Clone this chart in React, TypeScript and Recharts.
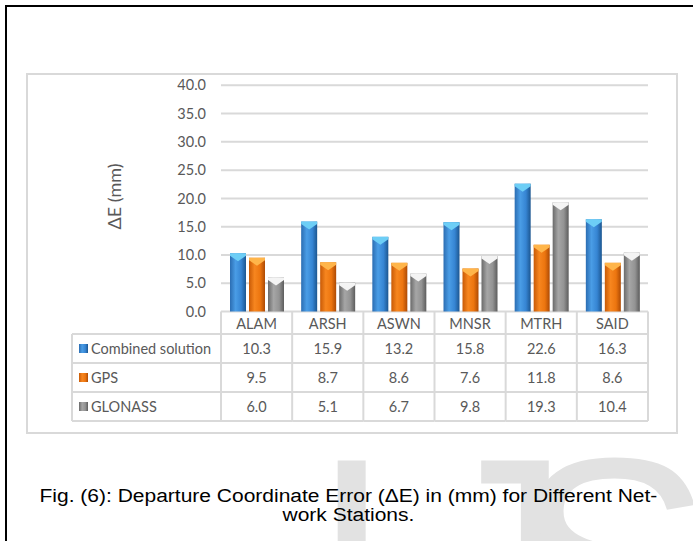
import { BarChart, Bar, XAxis, YAxis, CartesianGrid, Label } from 'recharts';

const stations = ['ALAM', 'ARSH', 'ASWN', 'MNSR', 'MTRH', 'SAID'];
const combined = [10.3, 15.9, 13.2, 15.8, 22.6, 16.3];
const gps = [9.5, 8.7, 8.6, 7.6, 11.8, 8.6];
const glonass = [6.0, 5.1, 6.7, 9.8, 19.3, 10.4];
const seriesNames = ['Combined solution', 'GPS', 'GLONASS'];
const yTicks = [0, 5, 10, 15, 20, 25, 30, 35, 40];

const data = stations.map((name, i) => ({
  name,
  combined: combined[i],
  gps: gps[i],
  glonass: glonass[i],
}));
const seriesValues = [combined, gps, glonass];

const FONT = 'Lato, "Open Sans", sans-serif';
const TEXT = '#595959';
const LINE = '#d9d9d9';

// gradient look for the three series (light cap = top face of the bar)
const STYLES = [
  { id: 'gBlue', stops: ['#2b6db2', '#4a9de6', '#3685d3', '#1c5690'], cap: '#6dcef6' },
  { id: 'gOrange', stops: ['#c85a06', '#f7861f', '#ec750f', '#ad4a04'], cap: '#ffb54a' },
  { id: 'gGray', stops: ['#6a6a6a', '#a6a6a6', '#939393', '#5c5c5c'], cap: '#f4f4f4' },
];

const Grad = ({ s }: any) => (
  <defs>
    <linearGradient id={s.id} x1="0" y1="0" x2="1" y2="0">
      <stop offset="0" stopColor={s.stops[0]} />
      <stop offset="0.35" stopColor={s.stops[1]} />
      <stop offset="0.7" stopColor={s.stops[2]} />
      <stop offset="1" stopColor={s.stops[3]} />
    </linearGradient>
  </defs>
);

const makeShape = (k: number) => (props: any) => {
  const { x, y, width, height } = props;
  if (!height || height <= 0) return <g />;
  const s = STYLES[k];
  const capH = Math.min(8, height);
  return (
    <g>
      <Grad s={s} />
      <rect x={x} y={y} width={width} height={height} fill={`url(#${s.id})`} />
      <polygon
        points={`${x},${y} ${x + width},${y} ${x + width},${y + 2.5} ${x + width / 2},${y + capH} ${x},${y + 2.5}`}
        fill={s.cap}
      />
    </g>
  );
};

const HEADER_H = 22.5;
const ROW_H = 29;
const LEGEND_W = 149;

// every x tick draws one column of the data table under the plot
const TableTick = (props: any) => {
  const { x, y, payload, index, width, visibleTicksCount } = props;
  const n = visibleTicksCount || stations.length;
  const band = (width || 427) / n;
  const left = x - band / 2;
  const right = x + band / 2;
  const bottom = y + HEADER_H + ROW_H * 3;
  const rowTops = [0, 1, 2, 3].map((r) => y + HEADER_H + ROW_H * r);
  const txt = { fill: TEXT, fontSize: 14.5, fontFamily: FONT };
  return (
    <g>
      <line x1={left} y1={y} x2={left} y2={bottom} stroke={LINE} strokeWidth={2} />
      {index === n - 1 && <line x1={right} y1={y} x2={right} y2={bottom} stroke={LINE} strokeWidth={2} />}
      {rowTops.map((ry, r) => (
        <line key={r} x1={left} y1={ry} x2={right} y2={ry} stroke={LINE} strokeWidth={2} />
      ))}
      <text x={x} y={y + HEADER_H / 2 + 1} textAnchor="middle" dominantBaseline="central" {...txt}>
        {payload.value}
      </text>
      {seriesValues.map((vals, r) => (
        <text key={r} x={x} y={rowTops[r] + ROW_H / 2} textAnchor="middle" dominantBaseline="central" {...txt}>
          {vals[index].toFixed(1)}
        </text>
      ))}
      {index === 0 && (
        <g>
          <line x1={left - LEGEND_W} y1={rowTops[0]} x2={left - LEGEND_W} y2={bottom} stroke={LINE} strokeWidth={2} />
          {rowTops.map((ry, r) => (
            <line key={r} x1={left - LEGEND_W} y1={ry} x2={left} y2={ry} stroke={LINE} strokeWidth={2} />
          ))}
          {seriesNames.map((nm, r) => (
            <g key={nm}>
              <Grad s={STYLES[r]} />
              <rect x={left - LEGEND_W + 7} y={rowTops[r] + ROW_H / 2 - 4.5} width={9} height={9} fill={`url(#${STYLES[r].id})`} />
              <text x={left - LEGEND_W + 19} y={rowTops[r] + ROW_H / 2} dominantBaseline="central" {...txt}>
                {nm}
              </text>
            </g>
          ))}
        </g>
      )}
    </g>
  );
};

const YLabel = ({ viewBox }: any) => {
  const cx = viewBox.x + 14;
  const cy = viewBox.y + viewBox.height / 2 - 2;
  return (
    <text
      x={cx}
      y={cy}
      transform={`rotate(-90 ${cx} ${cy})`}
      textAnchor="middle"
      dominantBaseline="central"
      fill={TEXT}
      fontSize={18}
      fontFamily={FONT}
    >
      ΔE (mm)
    </text>
  );
};

export default function App() {
  return (
    <div style={{ position: 'absolute', left: 0, top: 0, width: 693, height: 541, overflow: 'hidden', background: '#fff' }}>
      <div style={{ position: 'absolute', left: 5, top: 5, width: 800, height: 800, border: '2px solid #000', boxSizing: 'border-box' }} />
      <div style={{ position: 'absolute', left: 26, top: 73, width: 652, height: 361, border: `2px solid ${LINE}`, boxSizing: 'border-box' }} />
      <svg width={693} height={541} style={{ position: 'absolute', left: 0, top: 0 }}>
        <text y={667} fontSize={300} fontFamily='"Liberation Sans", Arial, sans-serif' fill="#e2e2e2">
          <tspan x={310}>I</tspan>
          <tspan x={421}>J</tspan>
          <tspan x={513}>S</tspan>
        </text>
      </svg>
      <div style={{ position: 'absolute', left: 0, top: 0 }}>
        <BarChart
          width={693}
          height={541}
          data={data}
          margin={{ top: 85.3, right: 45, left: 100, bottom: 119.5 }}
          barSize={16}
          barGap={3}
        >
          <CartesianGrid vertical={false} stroke={LINE} strokeWidth={2} />
          <XAxis
            dataKey="name"
            height={110}
            interval={0}
            axisLine={false}
            tickLine={false}
            tickSize={0}
            tickMargin={0}
            tick={<TableTick />}
          />
          <YAxis
            width={121}
            domain={[0, 40]}
            ticks={yTicks}
            tickFormatter={(v: number) => v.toFixed(1)}
            axisLine={false}
            tickLine={false}
            tickSize={0}
            tickMargin={15}
            tick={{ fill: TEXT, fontSize: 14.5, fontFamily: FONT }}
          >
            <Label content={<YLabel />} />
          </YAxis>
          <Bar dataKey="combined" name={seriesNames[0]} shape={makeShape(0)} isAnimationActive={false} />
          <Bar dataKey="gps" name={seriesNames[1]} shape={makeShape(1)} isAnimationActive={false} />
          <Bar dataKey="glonass" name={seriesNames[2]} shape={makeShape(2)} isAnimationActive={false} />
        </BarChart>
      </div>
      <div
        style={{
          position: 'absolute',
          left: 0,
          top: 487,
          width: 697,
          textAlign: 'center',
          fontFamily: '"Liberation Sans", Arial, sans-serif',
          fontSize: 18,
          lineHeight: '19px',
          color: '#000',
          transform: 'scaleX(1.166)',
          transformOrigin: '349px 0',
        }}
      >
        Fig. (6): Departure Coordinate Error (ΔE) in (mm) for Different Net-
        <br />
        work Stations.
      </div>
    </div>
  );
}
